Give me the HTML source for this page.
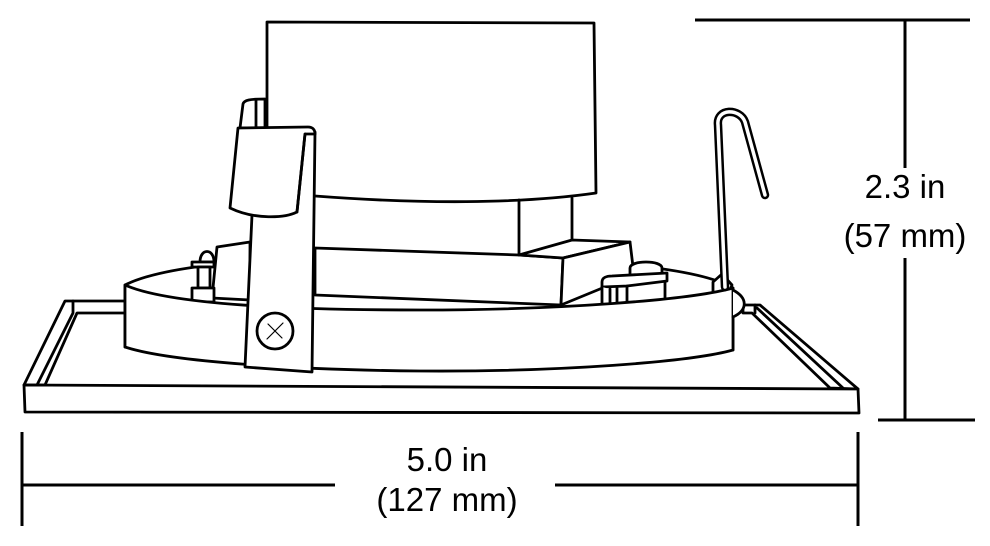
<!DOCTYPE html>
<html><head><meta charset="utf-8"><style>
html,body{margin:0;padding:0;background:#fff;}
svg{display:block;}
text{font-family:"Liberation Sans",sans-serif;font-size:33px;fill:#000;}
</style></head><body>
<svg width="990" height="546" viewBox="0 0 990 546" xmlns="http://www.w3.org/2000/svg">
<g fill="#fff" stroke="#000" stroke-width="2.8" stroke-linejoin="round" stroke-linecap="round">
<path d="M24,385 L65,301 L125,301 L125,313 L77,313 L45,385 Z" />
<path d="M73,301 L73,313 L37,385" fill="none"/>
<path d="M743,305 L760,305 L858,389 L830,388 L752,313 L743,313 Z"/>
<path d="M755,305 L755,313 M757,308 L843,388" fill="none"/>
<path d="M24,385 L858,389 L859,413 L25,412 Z"/>
<path d="M125,285 C170,262 300,255 430,256 C600,258 700,268 733,288 L733,350 L125,347 Z"/>
<path d="M267,22 L594,23 L596,193 C520,204 420,204 315,196 L267,196 Z"/>
<path d="M519,200 L519,255 M572,198 L572,240" fill="none"/>
<path d="M217,247 L250,242 L250,300 L212,298 Z"/>
<path d="M200,262 C200,248 214,248 214,262 Z"/>
<rect x="192" y="262" width="22" height="5"/>
<rect x="198" y="267" width="12" height="21"/>
<rect x="192" y="288" width="22" height="14"/>
<path d="M315,248 L519,255 L563,258 L561,305 L315,295 Z"/>
<path d="M519,255 L572,240 L630,242 L563,258 Z"/>
<path d="M630,242 L634,275 L561,305 L563,258 Z"/>
<path d="M630,268 C630,260 662,260 662,268 L662,276 L630,276 Z"/>
<path d="M602,287 L602,282 C602,278 606,276 612,276 L667,273 L667,281 L627,286 Z"/>
<path d="M602,287 L602,310 L610,310 L610,289 M617,288 L617,310 M627,286 L627,308 M665,282 L665,305" />
<path d="M713,282 L722,274 L732,285 L728,295 L713,295 Z"/>
<path d="M125,285 C170,305 300,310 420,310 C560,310 690,300 733,288 L733,350 C690,362 560,372 420,371 C300,370 170,362 125,347 Z"/>
<path d="M733,290 C748,298 748,310 733,317" />
<path d="M725,287 L718,125 C716,108 740,108 745,122 L765,195" fill="none" stroke-width="8.5"/>
<path d="M725,287 L718,125 C716,108 740,108 745,122 L765,195" fill="none" stroke="#fff" stroke-width="3.5"/>
<path d="M240,128 L243,104 C244,100 250,99 265,99 L265,128 Z"/>
<path d="M256,101 L256,128" fill="none"/>
<path d="M252,215 L245,367 L312,372 L315,132 L300,132 Z"/>
<path d="M238,128 L308,127 C313,127 315,130 315,134 L305,134 L297,212 C285,218 255,220 230,208 Z"/>
<path d="M305,134 L297,212" fill="none"/>
<circle cx="275" cy="331" r="18"/>
<path d="M267,339 L283,323 M268,324 L282,338" stroke-width="1.2"/>
</g>
<g stroke="#000" stroke-width="3" fill="none">
<path d="M695,20 L970,20 M905,20 L905,168 M905,258 L905,420 M878,420 L975,420"/>
<path d="M22,432 L22,526 M858,432 L858,526 M22,485 L335,485 M555,485 L858,485"/>
</g>
<text x="905" y="198" text-anchor="middle">2.3 in</text>
<text x="905" y="247" text-anchor="middle">(57 mm)</text>
<text x="447" y="471" text-anchor="middle">5.0 in</text>
<text x="447" y="511" text-anchor="middle">(127 mm)</text>
</svg>
</body></html>
